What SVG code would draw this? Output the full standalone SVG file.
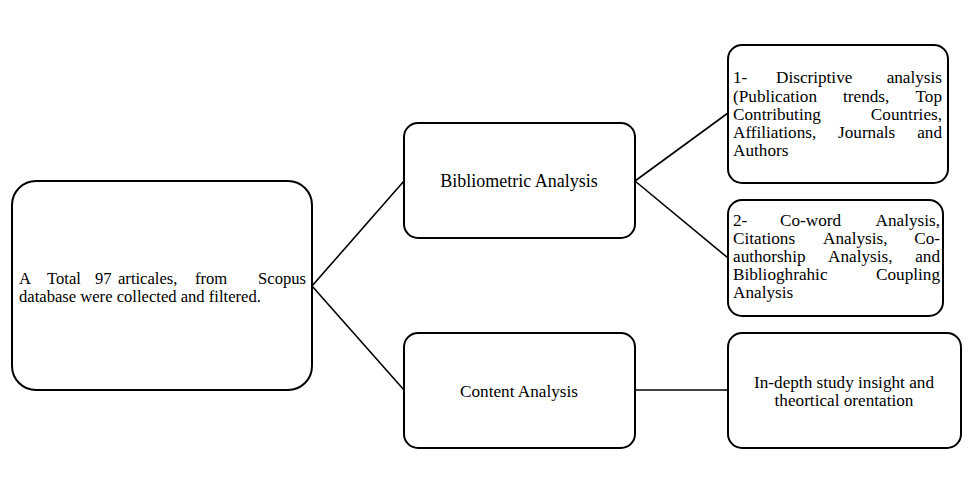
<svg xmlns="http://www.w3.org/2000/svg" width="978" height="485" viewBox="0 0 978 485">
<style>
.box{fill:#fff;stroke:#000;stroke-width:2}
.t{font-size:17.2px;fill:#000}
.s{font-size:16.6px}
.m{text-anchor:middle}
.c{stroke:#000;stroke-width:1.6;fill:none}
</style>
<rect width="978" height="485" fill="#fff"/>
<g id="connectors">
<line class="c" x1="312" y1="286" x2="404" y2="181"/>
<line class="c" x1="312" y1="286" x2="404" y2="390"/>
<line class="c" x1="635" y1="181" x2="728" y2="113"/>
<line class="c" x1="635" y1="181" x2="728" y2="258"/>
<line class="c" x1="635" y1="390" x2="728" y2="390"/>
</g>
<g font-family="'Liberation Serif', 'Times New Roman', 'DejaVu Serif', serif">
<g id="source">
<rect class="box" x="12" y="181" width="300" height="209" rx="24"/>
<text class="t s" y="284"><tspan x="19">A</tspan><tspan x="47">Total</tspan><tspan x="95">97</tspan><tspan x="118">articales,</tspan><tspan x="195">from</tspan><tspan x="306" text-anchor="end">Scopus</tspan></text>
<text class="t s" x="19" y="302">database were collected and filtered.</text>
</g>
<g id="bibliometric">
<rect class="box" x="404" y="123" width="231" height="115" rx="14"/>
<text class="t m" x="519" y="187" style="font-size:18px">Bibliometric Analysis</text>
</g>
<g id="content">
<rect class="box" x="404" y="333" width="231" height="115" rx="14"/>
<text class="t m" x="519" y="397">Content Analysis</text>
</g>
<g id="descriptive">
<rect class="box" x="728" y="45" width="220" height="138" rx="14"/>
<text class="t" y="83"><tspan x="733">1-</tspan><tspan x="776">Discriptive</tspan><tspan x="942" text-anchor="end">analysis</tspan></text>
<text class="t" y="101.5"><tspan x="733">(Publication</tspan><tspan x="843">trends,</tspan><tspan x="942" text-anchor="end">Top</tspan></text>
<text class="t" y="120"><tspan x="733">Contributing</tspan><tspan x="942" text-anchor="end">Countries,</tspan></text>
<text class="t" y="138"><tspan x="733">Affiliations,</tspan><tspan x="838">Journals</tspan><tspan x="942" text-anchor="end">and</tspan></text>
<text class="t" x="733" y="156">Authors</text>
</g>
<g id="coword">
<rect class="box" x="728" y="200" width="215" height="116" rx="14"/>
<text class="t" y="226"><tspan x="733">2-</tspan><tspan x="780">Co-word</tspan><tspan x="940" text-anchor="end">Analysis,</tspan></text>
<text class="t" y="244"><tspan x="733">Citations</tspan><tspan x="823">Analysis,</tspan><tspan x="940" text-anchor="end">Co-</tspan></text>
<text class="t" y="262"><tspan x="733">authorship</tspan><tspan x="828">Analysis,</tspan><tspan x="940" text-anchor="end">and</tspan></text>
<text class="t" y="280"><tspan x="733">Biblioghrahic</tspan><tspan x="940" text-anchor="end">Coupling</tspan></text>
<text class="t" x="733" y="298">Analysis</text>
</g>
<g id="indepth">
<rect class="box" x="728" y="333" width="233" height="115" rx="14"/>
<text class="t m" x="844" y="388">In-depth study insight and</text>
<text class="t m" x="844" y="406">theortical orentation</text>
</g>
</g>
</svg>
